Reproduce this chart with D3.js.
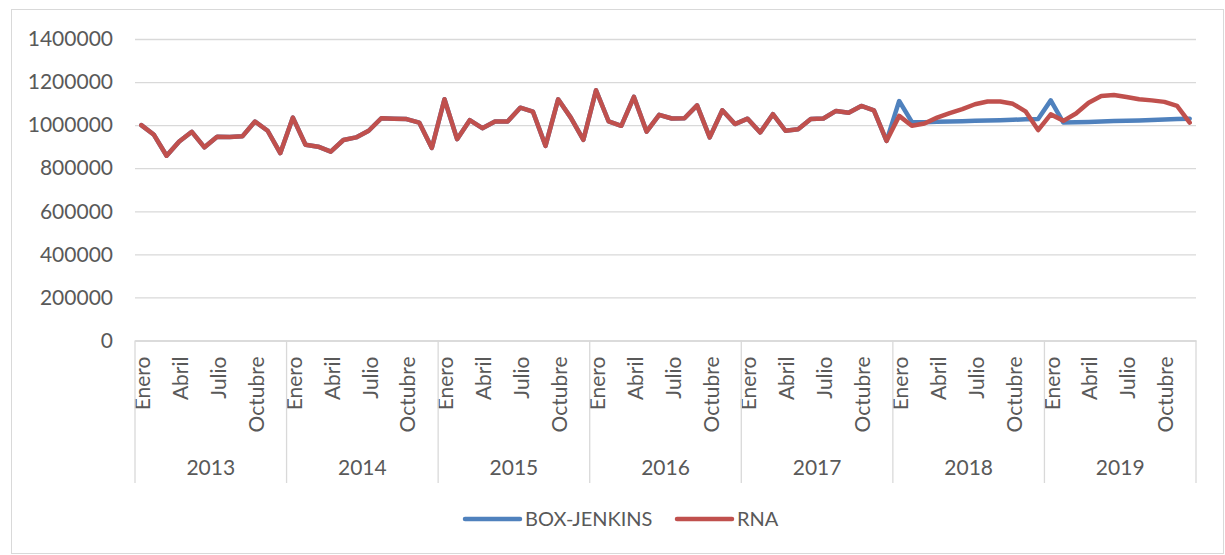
<!DOCTYPE html>
<html><head><meta charset="utf-8">
<script src="https://cdn.jsdelivr.net/npm/d3@7"></script>
<style>
html,body{margin:0;padding:0;background:#fff;}
svg{display:block;font-family:Lato,"Open Sans",sans-serif;}
</style></head>
<body>
<svg id="chart" width="1225" height="555"></svg>
<script>
const years = ["2013","2014","2015","2016","2017","2018","2019"];
const months = ["Enero","Febrero","Marzo","Abril","Mayo","Junio","Julio","Agosto","Septiembre","Octubre","Noviembre","Diciembre"];
const shownMonths = ["Enero","Abril","Julio","Octubre"];
const yTicks = [0,200000,400000,600000,800000,1000000,1200000,1400000];
const seriesNames = ["BOX-JENKINS","RNA"];

// observed series 2013-2017 (shared by both lines)
const history = [
  1000000, 955000, 858000, 924000, 969000, 897000, 946000, 945000, 948000, 1017000, 974000, 870000,
  1035000, 909000, 900000, 877000, 931000, 943000, 974000, 1032000, 1030000, 1028000, 1012000, 894000,
  1120000, 935000, 1023000, 986000, 1017000, 1017000, 1081000, 1063000, 904000, 1120000, 1035000, 932000,
  1162000, 1017000, 997000, 1131000, 970000, 1048000, 1031000, 1032000, 1092000, 943000, 1069000, 1005000,
  1030000, 966000, 1051000, 974000, 981000, 1028000, 1031000, 1066000, 1058000, 1089000, 1069000, 927000
];
// forecasts 2018-2019
const boxJenkinsForecast = [
  1112000, 1015000, 1014000, 1016000, 1017000, 1018000, 1020000, 1021000, 1023000, 1025000, 1027000, 1029000,
  1115000, 1012000, 1013000, 1015000, 1017000, 1019000, 1020000, 1022000, 1024000, 1026000, 1028000, 1030000
];
const rnaForecast = [
  1043000, 997000, 1008000, 1035000, 1056000, 1074000, 1097000, 1110000, 1110000, 1099000, 1064000, 977000,
  1050000, 1020000, 1054000, 1104000, 1135000, 1140000, 1131000, 1120000, 1115000, 1108000, 1089000, 1012000
];

const colors = {"BOX-JENKINS":"#4f81bd","RNA":"#c0504d"};
const series = [
  {name:"BOX-JENKINS", values: history.concat(boxJenkinsForecast)},
  {name:"RNA", values: history.concat(rnaForecast)}
];

const cats = [];
years.forEach(y => months.forEach(m => cats.push({year:y, month:m})));
const n = cats.length;

const svg = d3.select("#chart");
const L = 135, R = 1196, T = 39, B = 340.5;
const textColor = "#595959", gridColor = "#d9d9d9";
const fs = 21;

// outer border
svg.append("rect").attr("x",11.5).attr("y",9.5).attr("width",1212).attr("height",544)
  .attr("fill","#fff").attr("stroke",gridColor).attr("stroke-width",1);

const x = d3.scaleBand().domain(d3.range(n)).range([L,R]).padding(0);
const xc = i => x(i) + x.bandwidth()/2;
const y = d3.scaleLinear().domain([0,1400000]).range([B,T]);

// y grid + labels
const yAxis = d3.axisLeft(y).tickValues(yTicks).tickSize(-(R-L)).tickPadding(22).tickFormat(d3.format("d"));
const gy = svg.append("g").attr("transform",`translate(${L},0)`).call(yAxis);
gy.select(".domain").remove();
gy.selectAll(".tick line").attr("stroke",gridColor).attr("stroke-width",1.3);
gy.selectAll(".tick text").attr("fill",textColor).attr("font-size",fs).attr("font-family","Lato");

// x axis: month labels
const xAxis = d3.axisBottom(x).tickSize(0).tickPadding(0)
  .tickFormat(i => shownMonths.includes(cats[i].month) ? cats[i].month : "");
const gx = svg.append("g").attr("transform",`translate(0,${B})`).call(xAxis);
gx.select(".domain").attr("stroke",gridColor).attr("stroke-width",1.3);
gx.selectAll(".tick text")
  .attr("fill",textColor).attr("font-size",fs).attr("font-family","Lato")
  .attr("text-anchor","end").attr("dy","0.35em")
  .attr("transform","translate(1.5,16) rotate(-90)")
  .attr("y",0).attr("x",0);

// year separators
const sepIdx = d3.range(0, n+1, 12);
svg.append("g").selectAll("line").data(sepIdx).join("line")
  .attr("x1", i => i < n ? x(i) : R).attr("x2", i => i < n ? x(i) : R)
  .attr("y1", B).attr("y2", 483)
  .attr("stroke", gridColor).attr("stroke-width",1.3);

// year labels
svg.append("g").selectAll("text").data(years).join("text")
  .attr("x", (d,k) => (x(k*12) + (k*12+12 < n ? x(k*12+12) : R))/2)
  .attr("y", 468).attr("dy","0.35em")
  .attr("text-anchor","middle").attr("fill",textColor).attr("font-size",fs).attr("font-family","Lato")
  .text(d => d);

// lines
const line = d3.line().x((d,i) => xc(i)).y(d => y(d)).curve(d3.curveLinear);
svg.append("g").selectAll("path").data(series).join("path")
  .attr("d", s => line(s.values))
  .attr("fill","none").attr("stroke", s => colors[s.name])
  .attr("stroke-width",4.5).attr("stroke-linejoin","round").attr("stroke-linecap","round");

// legend
const legendPos = [{lx:465, tx:525},{lx:677, tx:737}];
const lg = svg.append("g").selectAll("g").data(seriesNames).join("g");
lg.append("line")
  .attr("x1",(d,k)=>legendPos[k].lx).attr("x2",(d,k)=>legendPos[k].lx+55)
  .attr("y1",519).attr("y2",519)
  .attr("stroke",d=>colors[d]).attr("stroke-width",4.5).attr("stroke-linecap","round");
lg.append("text")
  .attr("x",(d,k)=>legendPos[k].tx).attr("y",519).attr("dy","0.35em")
  .attr("fill",textColor).attr("font-size",20).attr("font-family","Lato")
  .text(d=>d);
</script>
</body></html>
